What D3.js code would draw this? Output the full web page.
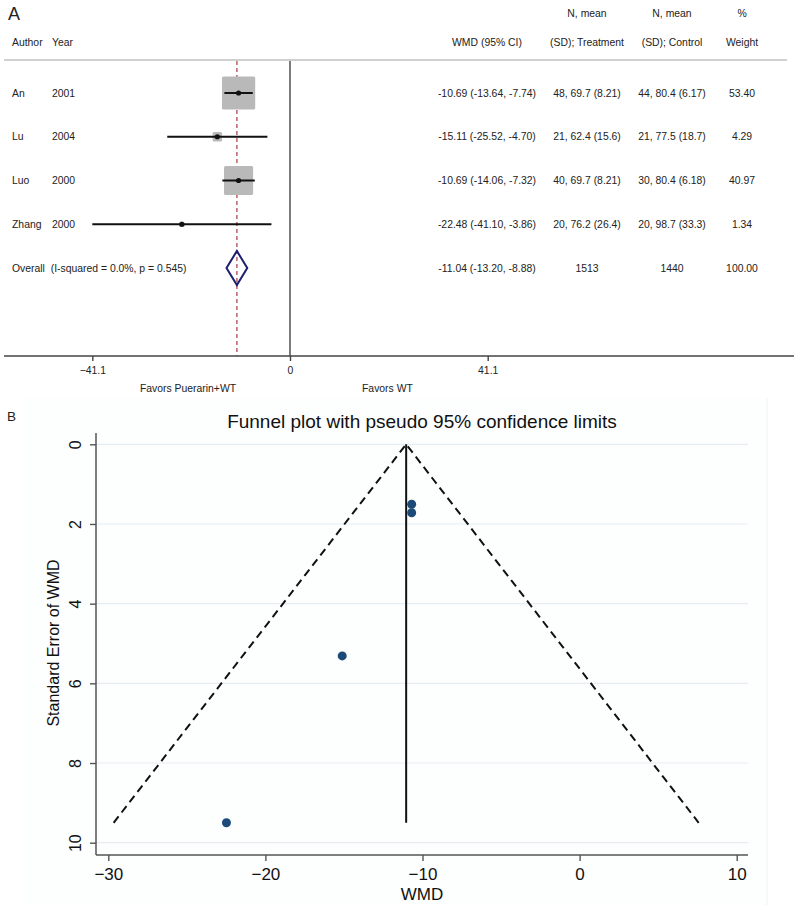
<!DOCTYPE html>
<html>
<head>
<meta charset="utf-8">
<script src="https://cdn.jsdelivr.net/npm/d3@7"></script>
<style>
  html, body { margin: 0; padding: 0; background: #fff; }
  svg { display: block; }
  text { font-family: "Liberation Sans", Arial, sans-serif; white-space: pre; }
</style>
</head>
<body>
<svg id="chart" width="800" height="907"></svg>
<script>
// ---------- Data (Panel A: forest plot) ----------
const authors   = ["An", "Lu", "Luo", "Zhang"];
const years     = ["2001", "2004", "2000", "2000"];
const wmd       = [-10.69, -15.11, -10.69, -22.48];
const ciLow     = [-13.64, -25.52, -14.06, -41.10];
const ciHigh    = [-7.74, -4.70, -7.32, -3.86];
const nTreat    = [48, 21, 40, 20];
const meanTreat = ["69.7", "62.4", "69.7", "76.2"];
const sdTreat   = ["8.21", "15.6", "8.21", "26.4"];
const nCtrl     = [44, 21, 30, 20];
const meanCtrl  = ["80.4", "77.5", "80.4", "98.7"];
const sdCtrl    = ["6.17", "18.7", "6.18", "33.3"];
const weights   = [53.40, 4.29, 40.97, 1.34];
const overallLabel = "Overall  (I-squared = 0.0%, p = 0.545)";
const overallWmd = -11.04, overallLow = -13.20, overallHigh = -8.88;
const overallNT = "1513", overallNC = "1440", overallW = "100.00";
const forestTicks = [-41.1, 0, 41.1];

// ---------- Data (Panel B: funnel plot) ----------
const funnelWmd = [-10.69, -15.11, -10.69, -22.48];
const funnelSE  = [1.505, 5.311, 1.719, 9.50];
const funnelXTicks = [-30, -20, -10, 0, 10];
const funnelYTicks = [0, 2, 4, 6, 8, 10];
const funnelMaxSE = 9.5;

const svg = d3.select("#chart");
const txt = "#222";

// ================= Panel A =================
const A = svg.append("g");
A.append("text").attr("x", 8).attr("y", 20).attr("font-size", 18).attr("fill", txt).text("A");

const fx = d3.scaleLinear().domain([-41.1, 41.1]).range([92.3, 487.7]);
const rowNames = authors.concat(["Overall"]);
const fy = d3.scalePoint().domain(rowNames).range([93, 268]);
const boxSide = d3.scaleSqrt().domain([0, 100]).range([0, 45.5]);

const fs = 10.4;
const colWmd = 487, colT = 587, colC = 672, colW = 742;
function hdr(x, y, s, anchor) {
  A.append("text").attr("x", x).attr("y", y).attr("font-size", fs).attr("fill", txt)
    .attr("text-anchor", anchor || "middle").attr("dominant-baseline", "central").text(s);
}
hdr(12, 42, "Author", "start");
hdr(52, 42, "Year", "start");
hdr(colWmd, 42, "WMD (95% CI)");
hdr(colT, 13, "N, mean");
hdr(colT, 42, "(SD); Treatment");
hdr(colC, 13, "N, mean");
hdr(colC, 42, "(SD); Control");
hdr(colW, 13, "%");
hdr(colW, 42, "Weight");

A.append("line").attr("x1", 4).attr("x2", 787).attr("y1", 60).attr("y2", 60)
  .attr("stroke", "#d0d0d0").attr("stroke-width", 2);

A.append("line").attr("x1", fx(0)).attr("x2", fx(0)).attr("y1", 61).attr("y2", 356)
  .attr("stroke", "#444").attr("stroke-width", 1.4);
A.append("line").attr("x1", fx(overallWmd)).attr("x2", fx(overallWmd)).attr("y1", 61).attr("y2", 356)
  .attr("stroke", "#b5555d").attr("stroke-width", 1.4).attr("stroke-dasharray", "4,3");

authors.forEach((a, i) => {
  const y = fy(a);
  const s = boxSide(weights[i]);
  A.append("rect").attr("x", fx(wmd[i]) - s / 2).attr("y", y - s / 2)
    .attr("width", s).attr("height", s).attr("rx", 1.5).attr("fill", "#b9b9b9");
  A.append("line").attr("x1", fx(ciLow[i])).attr("x2", fx(ciHigh[i])).attr("y1", y).attr("y2", y)
    .attr("stroke", "#111").attr("stroke-width", 2);
  A.append("circle").attr("cx", fx(wmd[i])).attr("cy", y).attr("r", 2.6).attr("fill", "#111");
  hdr(12, y, a, "start");
  hdr(52, y, years[i], "start");
  hdr(colWmd, y, `${wmd[i].toFixed(2)} (${ciLow[i].toFixed(2)}, ${ciHigh[i].toFixed(2)})`);
  hdr(colT, y, `${nTreat[i]}, ${meanTreat[i]} (${sdTreat[i]})`);
  hdr(colC, y, `${nCtrl[i]}, ${meanCtrl[i]} (${sdCtrl[i]})`);
  hdr(colW, y, weights[i].toFixed(2));
});

const oy = fy("Overall");
A.append("path")
  .attr("d", `M${fx(overallLow)},${oy} L${fx(overallWmd)},${oy - 17} L${fx(overallHigh)},${oy} L${fx(overallWmd)},${oy + 17} Z`)
  .attr("fill", "none").attr("stroke", "#1c1f6e").attr("stroke-width", 2);
hdr(12, oy, overallLabel, "start");
hdr(colWmd, oy, `${overallWmd.toFixed(2)} (${overallLow.toFixed(2)}, ${overallHigh.toFixed(2)})`);
hdr(colT, oy, overallNT);
hdr(colC, oy, overallNC);
hdr(colW, oy, overallW);

A.append("line").attr("x1", 4).attr("x2", 794).attr("y1", 356).attr("y2", 356)
  .attr("stroke", "#444").attr("stroke-width", 1.4);
const fAxis = A.append("g").attr("transform", "translate(0,356)")
  .call(d3.axisBottom(fx).tickValues(forestTicks).tickSize(5).tickFormat(d => d === 0 ? "0" : d3.format(".1f")(d)));
fAxis.select(".domain").remove();
fAxis.selectAll(".tick line").attr("stroke", "#444").attr("stroke-width", 1.4);
fAxis.selectAll(".tick text").attr("font-size", fs).attr("fill", txt).attr("y", 11)
  .attr("font-family", "'Liberation Sans', Arial, sans-serif");
hdr(188, 388, "Favors Puerarin+WT");
hdr(362, 388, "Favors WT", "start");

// ================= Panel B =================
const B = svg.append("g");
B.append("rect").attr("x", 24).attr("y", 398).attr("width", 743).attr("height", 507)
  .attr("fill", "#fdfefe");
B.append("line").attr("x1", 767).attr("x2", 767).attr("y1", 398).attr("y2", 905)
  .attr("stroke", "#f0f3f4").attr("stroke-width", 1);
B.append("text").attr("x", 7).attr("y", 420.5).attr("font-size", 13.5).attr("fill", txt).text("B");
B.append("text").attr("x", 422).attr("y", 428).attr("font-size", 19).attr("fill", "#111")
  .attr("text-anchor", "middle").text("Funnel plot with pseudo 95% confidence limits");

const px = d3.scaleLinear().domain([-30, 10]).range([108.3, 736.7]);
const py = d3.scaleLinear().domain([0, 10]).range([444.3, 842.7]);
const pLeft = 96, pRight = 748, pTop = 433, pBottom = 855;

B.selectAll("line.grid").data(funnelYTicks).join("line").attr("class", "grid")
  .attr("x1", pLeft).attr("x2", pRight).attr("y1", d => py(d)).attr("y2", d => py(d))
  .attr("stroke", "#e6eef1").attr("stroke-width", 1.2);

const yAx = B.append("g").attr("transform", `translate(${pLeft},0)`)
  .call(d3.axisLeft(py).tickValues(funnelYTicks).tickSize(6).tickFormat(d3.format("d")));
yAx.select(".domain").remove();
yAx.selectAll(".tick line").attr("stroke", "#555").attr("stroke-width", 1.4);
yAx.selectAll(".tick text").attr("font-size", 16).attr("fill", "#111")
  .attr("font-family", "'Liberation Sans', Arial, sans-serif")
  .attr("x", 0).attr("dy", null).attr("text-anchor", "middle")
  .attr("transform", "translate(-21,0) rotate(-90)").attr("dominant-baseline", "central");
B.append("line").attr("x1", pLeft).attr("x2", pLeft).attr("y1", pTop).attr("y2", pBottom)
  .attr("stroke", "#555").attr("stroke-width", 1.5);

const xAx = B.append("g").attr("transform", `translate(0,${pBottom})`)
  .call(d3.axisBottom(px).tickValues(funnelXTicks).tickSize(6).tickFormat(d3.format("d")));
xAx.select(".domain").remove();
xAx.selectAll(".tick line").attr("stroke", "#555").attr("stroke-width", 1.4);
xAx.selectAll(".tick text").attr("font-size", 17).attr("fill", "#111")
  .attr("font-family", "'Liberation Sans', Arial, sans-serif").attr("y", 13);
B.append("line").attr("x1", pLeft).attr("x2", pRight).attr("y1", pBottom).attr("y2", pBottom)
  .attr("stroke", "#555").attr("stroke-width", 1.5);

B.append("text").attr("x", 422).attr("y", 900).attr("font-size", 17).attr("fill", "#111")
  .attr("text-anchor", "middle").text("WMD");
B.append("text").attr("transform", "translate(59,643) rotate(-90)").attr("font-size", 16)
  .attr("fill", "#111").attr("text-anchor", "middle").text("Standard Error of WMD");

const z = 1.96;
B.append("path")
  .attr("d", `M${px(overallWmd - z * funnelMaxSE)},${py(funnelMaxSE)} L${px(overallWmd)},${py(0)} L${px(overallWmd + z * funnelMaxSE)},${py(funnelMaxSE)}`)
  .attr("fill", "none").attr("stroke", "#111").attr("stroke-width", 2).attr("stroke-dasharray", "8,5");
B.append("line").attr("x1", px(overallWmd)).attr("x2", px(overallWmd))
  .attr("y1", py(0)).attr("y2", py(funnelMaxSE)).attr("stroke", "#111").attr("stroke-width", 2);

B.selectAll("circle.pt").data(funnelWmd).join("circle").attr("class", "pt")
  .attr("cx", d => px(d)).attr("cy", (d, i) => py(funnelSE[i])).attr("r", 4.5)
  .attr("fill", "#1b4a78");
</script>
</body>
</html>
